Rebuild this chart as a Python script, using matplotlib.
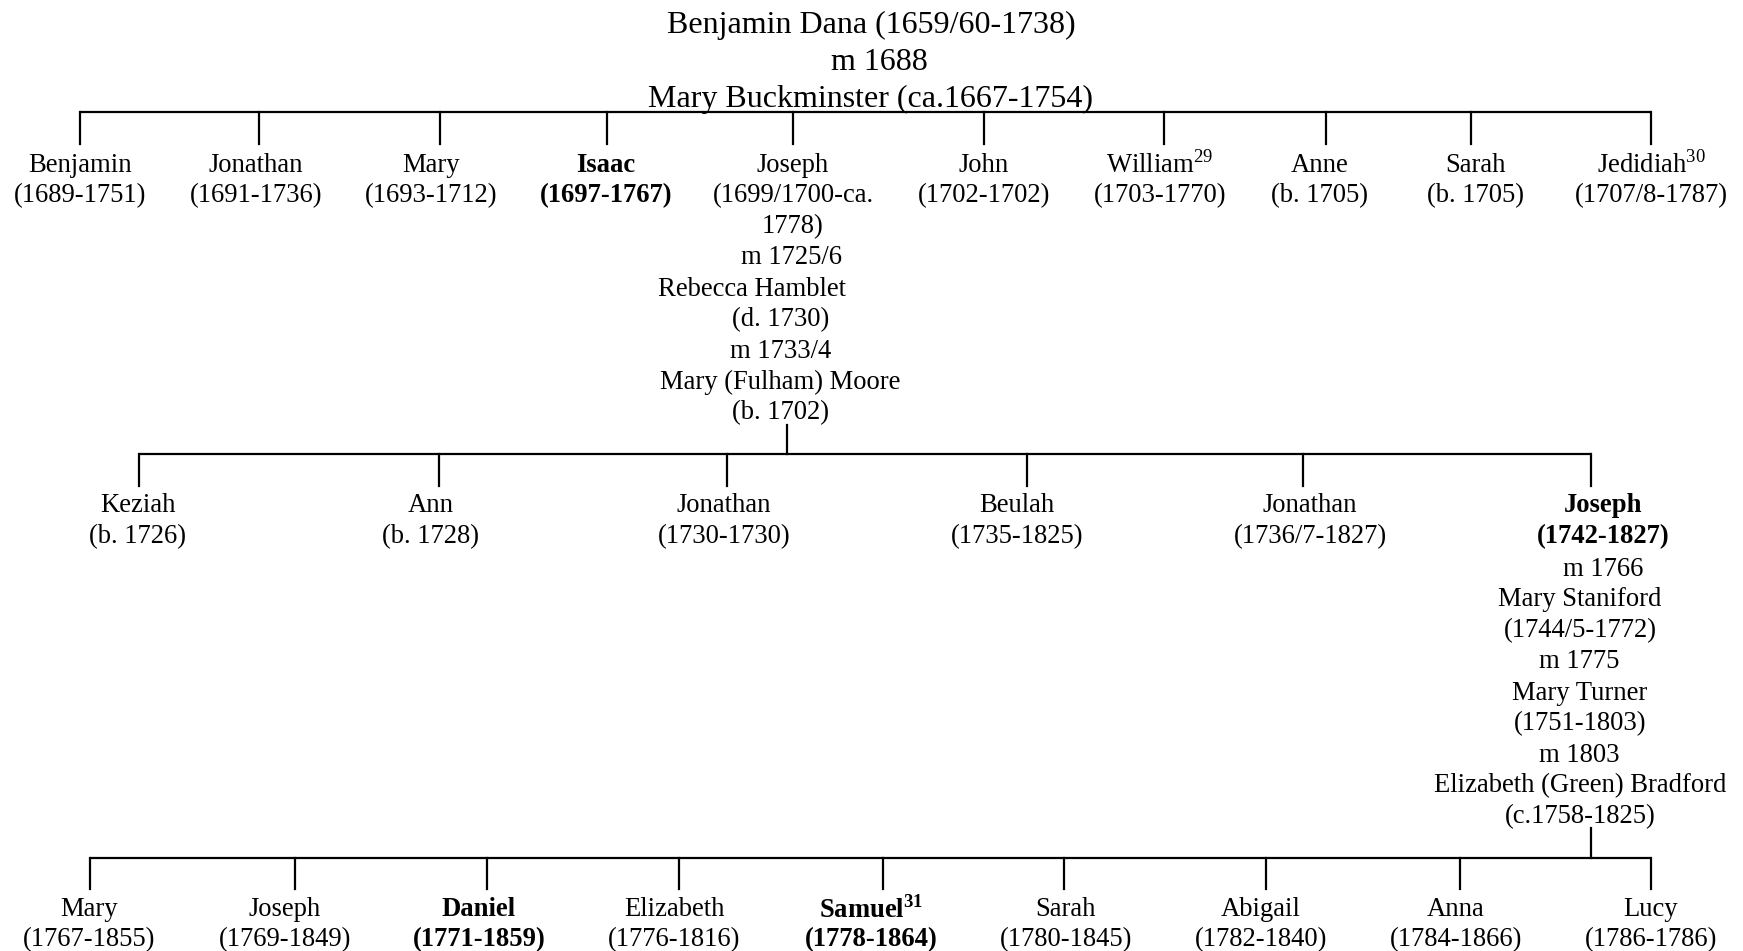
import matplotlib
matplotlib.use("Agg")
import matplotlib.pyplot as plt

plt.rcParams['font.family'] = ['Liberation Serif', 'DejaVu Serif']
plt.rcParams['mathtext.fontset'] = 'custom'
plt.rcParams['mathtext.rm'] = 'Liberation Serif'
plt.rcParams['mathtext.bf'] = 'Liberation Serif:bold'

# the couple at the top
root_lines = ["Benjamin Dana (1659/60-1738)", "m 1688", "Mary Buckminster (ca.1667-1754)"]

# children of Benjamin and Mary
gen1_names = ["Benjamin", "Jonathan", "Mary", "Isaac", "Joseph", "John", "William", "Anne", "Sarah", "Jedidiah"]
gen1_dates = ["(1689-1751)", "(1691-1736)", "(1693-1712)", "(1697-1767)", "(1699/1700-ca.\n1778)",
              "(1702-1702)", "(1703-1770)", "(b. 1705)", "(b. 1705)", "(1707/8-1787)"]
gen1_notes = ["", "", "", "", "", "", "29", "", "", "30"]
gen1_bold = [False, False, False, True, False, False, False, False, False, False]
joseph1_spouses = ["m 1725/6", "Rebecca Hamblet", "(d. 1730)", "m 1733/4", "Mary (Fulham) Moore", "(b. 1702)"]

# children of Joseph (1699/1700)
gen2_names = ["Keziah", "Ann", "Jonathan", "Beulah", "Jonathan", "Joseph"]
gen2_dates = ["(b. 1726)", "(b. 1728)", "(1730-1730)", "(1735-1825)", "(1736/7-1827)", "(1742-1827)"]
gen2_bold = [False, False, False, False, False, True]
joseph2_spouses = ["m 1766", "Mary Staniford", "(1744/5-1772)", "m 1775", "Mary Turner", "(1751-1803)",
                   "m 1803", "Elizabeth (Green) Bradford", "(c.1758-1825)"]

# children of Joseph (1742)
gen3_names = ["Mary", "Joseph", "Daniel", "Elizabeth", "Samuel", "Sarah", "Abigail", "Anna", "Lucy"]
gen3_dates = ["(1767-1855)", "(1769-1849)", "(1771-1859)", "(1776-1816)", "(1778-1864)",
              "(1780-1845)", "(1782-1840)", "(1784-1866)", "(1786-1786)"]
gen3_notes = ["", "", "", "", "31", "", "", "", ""]
gen3_bold = [False, False, True, False, True, False, False, False, False]

# layout (pixels, y downwards)
W, H = 1743, 951
FS = 19.2
FS_TITLE = 23
LH = 31
LW = 1.6
DY = 3  # nudge text down a little

gen1_x = [80, 259, 440, 607, 793, 984, 1164, 1326, 1471, 1651]
gen1_tx = [80, 256, 431, 606, 793, 984, 1160, 1320, 1476, 1651]
gen2_x = [139, 439, 727, 1027, 1303, 1591]
gen2_tx = [138, 431, 724, 1017, 1310, 1603]
gen3_x = [90, 295, 487, 679, 883, 1064, 1266, 1460, 1651]
gen3_tx = [89, 285, 479, 674, 871, 1066, 1261, 1456, 1651]

fig = plt.figure(figsize=(W / 100, H / 100), dpi=100)
ax = fig.add_axes([0, 0, 1, 1])
ax.set_xlim(0, W)
ax.set_ylim(H, 0)
ax.axis('off')


def label(x, y, s, bold=False, note="", size=FS):
    if note:
        s = s + (r"$^{\mathbf{%s}}$" % note if bold else r"$^{%s}$" % note)
    ax.text(x, y + DY, s, ha='center', va='center', fontsize=size,
            fontweight='bold' if bold else 'normal', color='black')


def bracket(xs, y_bar, y_drop, parent_x, parent_top):
    ax.plot([min(xs), max(xs)], [y_bar, y_bar], color='black', lw=LW, solid_capstyle='butt')
    for x in xs:
        ax.plot([x, x], [y_bar, y_drop], color='black', lw=LW)
    if parent_x is not None:
        ax.plot([parent_x, parent_x], [parent_top, y_bar], color='black', lw=LW)


# title couple
for i, s in enumerate(root_lines):
    cx = 879 if s.startswith("m ") else 871
    label(cx, 22 + i * 37, s, size=FS_TITLE)

# generation 1
bracket(gen1_x, 112, 144, None, None)
for x, n, d, note, b in zip(gen1_tx, gen1_names, gen1_dates, gen1_notes, gen1_bold):
    label(x, 162, n, b, note)
    for j, part in enumerate(d.split("\n")):
        label(x, 193 + j * LH, part, b)

sp1_x = [792, 752, 781, 781, 780, 781]
for j, (x, s) in enumerate(zip(sp1_x, joseph1_spouses)):
    label(x, 255 + j * LH, s)

# generation 2
bracket(gen2_x, 454, 486, 787, 425)
for x, n, d, b in zip(gen2_tx, gen2_names, gen2_dates, gen2_bold):
    label(x, 503, n, b)
    label(x, 534, d, b)

sp2_x = [1603, 1580, 1580, 1579, 1580, 1580, 1579, 1580, 1580]
for j, (x, s) in enumerate(zip(sp2_x, joseph2_spouses)):
    label(x, 566 + j * LH, s)

# generation 3
bracket(gen3_x, 858, 889, 1591, 828)
for x, n, d, note, b in zip(gen3_tx, gen3_names, gen3_dates, gen3_notes, gen3_bold):
    label(x, 907, n, b, note)
    label(x, 937, d, b)

fig.savefig("out.png", dpi=100, facecolor='white')
